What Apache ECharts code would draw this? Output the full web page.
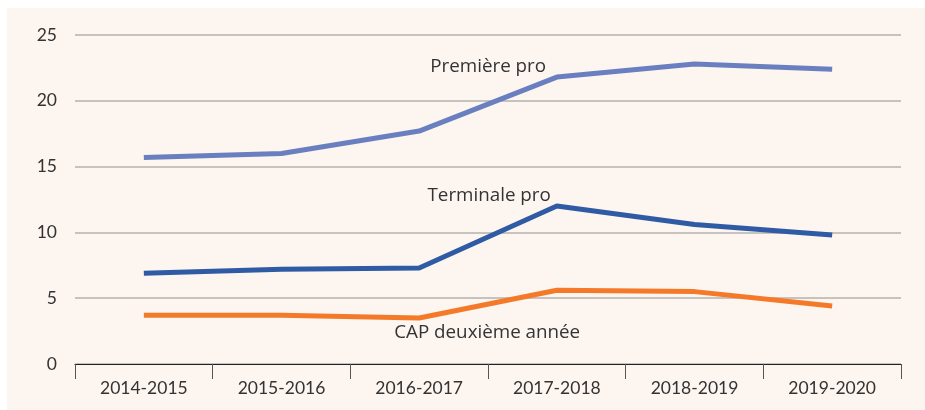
<!DOCTYPE html>
<html>
<head>
<meta charset="utf-8">
<script src="https://cdn.jsdelivr.net/npm/echarts@6/dist/echarts.min.js"></script>
<style>
  html, body { margin: 0; padding: 0; background: #fff; }
  #chart { position: absolute; left: 7px; top: 8px; width: 918px; height: 402px; background: #fcf5f0; }
</style>
</head>
<body>
<div id="chart"></div>
<script>
// Effectifs par niveau, 2014-2015 à 2019-2020
const years = ['2014-2015', '2015-2016', '2016-2017', '2017-2018', '2018-2019', '2019-2020'];
const premierePro = [15.7, 16.0, 17.7, 21.8, 22.8, 22.4];
const terminalePro = [6.9, 7.2, 7.3, 12.0, 10.6, 9.8];
const capDeuxieme = [3.7, 3.7, 3.5, 5.6, 5.5, 4.4];

const FONT = 'Lato, "Noto Sans", sans-serif';
const LABEL_FONT = '"Open Sans", Lato, sans-serif';
const TXT = '#333';

const chart = echarts.init(document.getElementById('chart'));

// libellé posé à côté d'un point de la série (point invisible)
function tag(text, idx, val, dx, dy) {
  return {
    coord: [idx, val],
    symbol: 'circle', symbolSize: 1,
    itemStyle: { color: 'transparent' },
    label: {
      show: true, position: 'inside', formatter: text, offset: [dx, dy],
      color: TXT, fontFamily: LABEL_FONT, fontSize: 18.8,
    },
  };
}

chart.setOption({
  backgroundColor: 'transparent',
  animation: false,
  grid: { left: 68, right: 24, top: 27, bottom: 46 },
  xAxis: {
    type: 'category', data: years, boundaryGap: true,
    axisLine: { lineStyle: { color: '#222', width: 1.2 } },
    axisTick: { show: true, length: 15, lineStyle: { color: '#555' } },
    axisLabel: { color: TXT, fontFamily: FONT, fontSize: 17.5, margin: 15 },
  },
  yAxis: {
    type: 'value', min: 0, max: 25, interval: 5,
    axisLine: { show: false }, axisTick: { show: false },
    axisLabel: { color: TXT, fontFamily: FONT, fontSize: 17.5, margin: 18 },
    splitLine: { lineStyle: { color: '#b5b2ae', width: 1.5 } },
  },
  series: [
    {
      name: 'Première pro', type: 'line', data: premierePro,
      symbol: 'none', lineStyle: { color: '#6a7fc0', width: 5 },
      markPoint: { silent: true, data: [tag('Première pro', 2, 17.7, 69, -64)] },
    },
    {
      name: 'Terminale pro', type: 'line', data: terminalePro,
      symbol: 'none', lineStyle: { color: '#2f5ba5', width: 5 },
      markPoint: { silent: true, data: [tag('Terminale pro', 2, 7.3, 70, -72)] },
    },
    {
      name: 'CAP deuxième année', type: 'line', data: capDeuxieme,
      symbol: 'none', lineStyle: { color: '#f47a2a', width: 5 },
      markPoint: { silent: true, data: [tag('CAP deuxième année', 2, 3.5, 68, 15)] },
    },
  ],
});
</script>
</body>
</html>
